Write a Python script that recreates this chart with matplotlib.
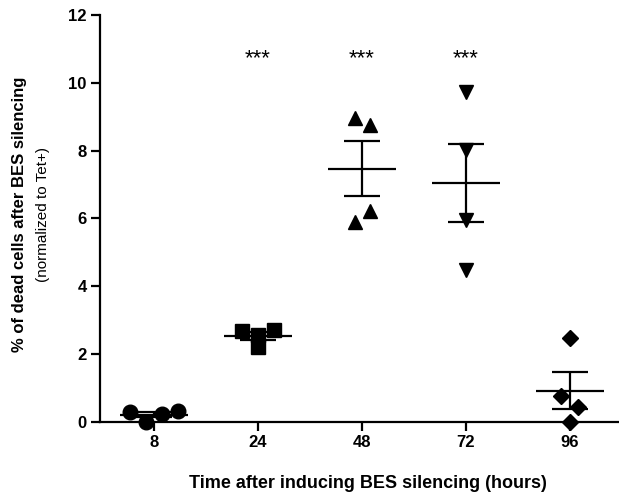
import numpy as np
import matplotlib
matplotlib.use('Agg')
import matplotlib.pyplot as plt

plt.rcParams['font.family'] = ['Liberation Sans', 'DejaVu Sans']

# categories (hours after inducing BES silencing)
hours = ['8', '24', '48', '72', '96']

# individual replicates (% dead cells, normalized to Tet+)
vals_8 = [0.30, 0.00, 0.25, 0.32]
vals_24 = [2.68, 2.57, 2.21, 2.71]
vals_48 = [8.97, 5.90, 6.22, 8.76]
vals_72 = [9.72, 8.02, 5.96, 4.48]
vals_96 = [2.48, 0.77, 0.44, 0.00]

# horizontal spread of points within a column (Prism-like scatter)
spread_8 = [-0.23, -0.08, 0.08, 0.23]
spread_24 = [-0.15, 0.0, 0.0, 0.15]
spread_48 = [-0.07, -0.07, 0.08, 0.08]
spread_72 = [0.0, 0.0, 0.0, 0.0]
spread_96 = [0.0, -0.09, 0.08, 0.0]

markers = ['o', 's', '^', 'v', 'D']
marker_sizes = [10.5, 9.5, 10.5, 10.5, 8.0]
signif = ['', '***', '***', '***', '']

all_vals = [vals_8, vals_24, vals_48, vals_72, vals_96]
all_spread = [spread_8, spread_24, spread_48, spread_72, spread_96]

W, H = 619, 501
fig = plt.figure(figsize=(W / 100, H / 100), dpi=100)
left, right, bottom, top = 100, 624, 422, 15
ax = fig.add_axes([left / W, (H - bottom) / H, (right - left) / W, (bottom - top) / H])

lw = 1.6
for i, (v, s) in enumerate(zip(all_vals, all_spread)):
    v = np.array(v)
    x = i + np.array(s)
    mean = v.mean()
    sem = v.std(ddof=1) / np.sqrt(len(v))
    ax.hlines(mean, i - 0.33, i + 0.33, color='black', lw=lw, zorder=3)
    ax.vlines(i, mean - sem, mean + sem, color='black', lw=lw, zorder=3)
    ax.hlines([mean - sem, mean + sem], i - 0.17, i + 0.17, color='black', lw=lw, zorder=3)
    ax.plot(x, v, linestyle='none', marker=markers[i], markersize=marker_sizes[i],
            color='black', zorder=4, clip_on=False)
    if signif[i]:
        ax.text(i, 10.72, signif[i], ha='center', va='center', fontsize=16)

ax.set_xlim(-0.52, 4.52)
ax.set_ylim(0, 12)
ax.set_yticks(range(0, 13, 2))
ax.set_xticks(range(len(hours)))
ax.set_xticklabels(hours)

for side in ['top', 'right']:
    ax.spines[side].set_visible(False)
for side in ['left', 'bottom']:
    ax.spines[side].set_linewidth(1.6)
ax.tick_params(axis='both', direction='out', length=6.5, width=1.6,
               labelsize=12, pad=3)
for lab in ax.get_xticklabels() + ax.get_yticklabels():
    lab.set_fontweight('bold')

fig.text(368 / W, 1 - 483 / H, 'Time after inducing BES silencing (hours)',
         ha='center', va='center', fontsize=13, fontweight='bold')
fig.text(20 / W, 1 - 214 / H, '% of dead cells after BES silencing',
         ha='center', va='center', rotation=90, fontsize=12, fontweight='bold')
fig.text(43 / W, 1 - 214 / H, '(normalized to Tet+)',
         ha='center', va='center', rotation=90, fontsize=11)

fig.savefig('out.png', dpi=100)
